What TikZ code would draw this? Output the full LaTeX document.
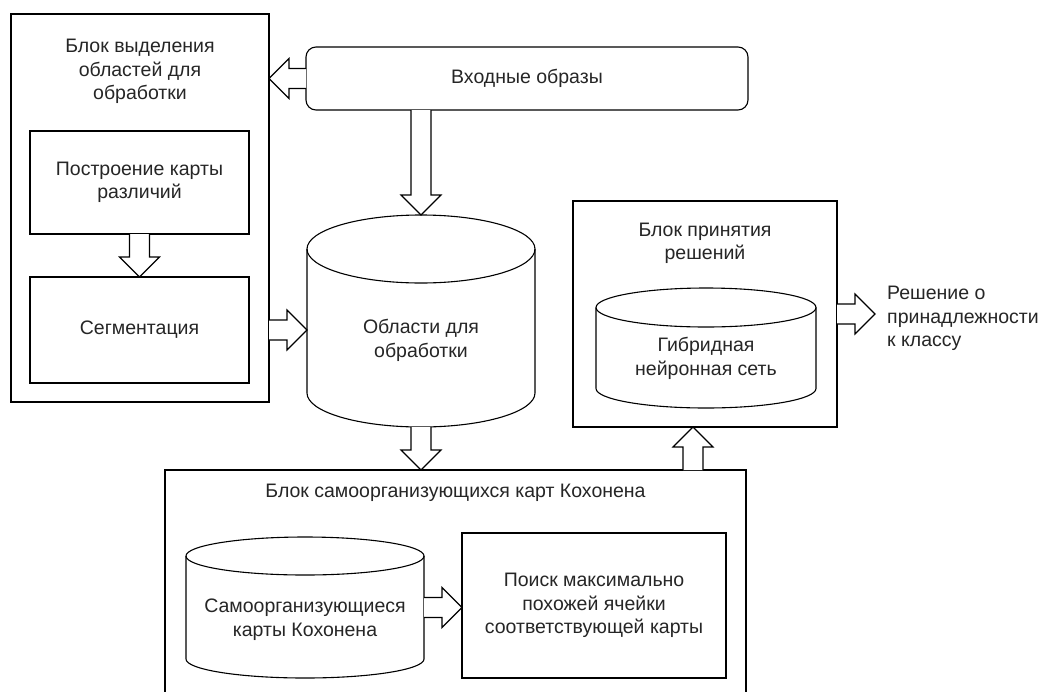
\documentclass[tikz,border=0pt]{standalone}
\usepackage{fontspec}
\setmainfont{Liberation Sans}
\usetikzlibrary{calc}
\tikzset{
  ln/.style={draw=black, line width=1.1pt},
  box/.style={ln, rectangle, inner sep=0pt, outer sep=0pt},
  ghost/.style={rectangle, inner sep=0pt, outer sep=0pt},
  txt/.style={align=center, inner sep=0pt, text=black!85, font=\fontsize{19.5}{23.5}\selectfont},
}
\newcommand\blockarrow[2]{%
  \coordinate (baA) at (#1);
  \coordinate (baB) at (#2);
  \coordinate (baN) at ($(baB)!20pt!(baA)$);
  \draw[ln, fill=white, line join=miter]
    ($(baA)!10pt!90:(baB)$) -- ($(baN)!10pt!-90:(baA)$) -- ($(baN)!20pt!-90:(baA)$)
    -- (baB) -- ($(baN)!20pt!90:(baA)$) -- ($(baN)!10pt!90:(baA)$) -- ($(baA)!10pt!-90:(baB)$);
}
\newcommand\cylout[3]{% name, rx, ry
  \draw[ln] ([yshift=-#3]#1.north west) -- ([yshift=#3]#1.south west)
    arc[start angle=180, end angle=360, x radius=#2, y radius=#3]
    -- ([yshift=-#3]#1.north east)
    arc[start angle=0, end angle=180, x radius=#2, y radius=#3] -- cycle;
  \draw[ln] ([yshift=-#3]#1.north west)
    arc[start angle=180, end angle=360, x radius=#2, y radius=#3];
}
\begin{document}
\begin{tikzpicture}[x=1pt, y=-1pt]
\useasboundingbox (0,0) rectangle (1043,691);
\clip (0,0) rectangle (1043,691);
\fill[white] (0,0) rectangle (1043,691);

% left block
\node[box, minimum width=258pt, minimum height=388pt] (lb) at (140,208) {};
\node[txt] (lbt) at (140,71.5) {Блок выделения\\областей для\\обработки};
\node[box, minimum width=219pt, minimum height=103pt] (b1) at (139.5,182.5) {};
\node[txt] at (b1.center) {Построение карты\\различий};
\node[box, minimum width=219pt, minimum height=106pt] (b2) at (139.5,330) {};
\node[txt] at (b2.center) {Сегментация};

% input
\node[box, rounded corners=10pt, minimum width=442pt, minimum height=63pt] (in) at (527,78.5) {};
\node[txt] at (in.center) {Входные образы};

% main cylinder
\node[ghost, minimum width=228pt, minimum height=212pt] (c1) at (421,321) {};
\cylout{c1}{114pt}{34pt}
\node[txt] at (421,340.5) {Области для\\обработки};

% decision block
\node[box, minimum width=264pt, minimum height=226pt] (dec) at (705,314) {};
\node[txt] (dect) at (705,243.5) {Блок принятия\\решений};
\node[ghost, minimum width=220pt, minimum height=120pt] (c2) at (706,348) {};
\cylout{c2}{110pt}{19.5pt}
\node[txt] at (706,358.5) {Гибридная\\нейронная сеть};

\node[txt, align=left, anchor=west] (out) at (887,318.5) {Решение о\\принадлежности\\к классу};

% Kohonen block
\node[box, minimum width=581pt, minimum height=240pt] (kb) at (455.5,590) {};
\node[txt] (kbt) at (455.5,493) {Блок самоорганизующихся карт Кохонена};
\node[ghost, minimum width=238pt, minimum height=141pt] (kc) at (305,607.5) {};
\cylout{kc}{119pt}{19pt}
\node[txt] at (305,619.5) {Самоорганизующиеся\\карты Кохонена};
\node[box, minimum width=264pt, minimum height=145pt] (pb) at (594,605.5) {};
\node[txt] at (pb.center) {Поиск максимально\\похожей ячейки\\соответствующей карты};

% arrows
\blockarrow{in.west}{in.west -| lb.east}
\blockarrow{in.south -| c1.north}{c1.north}
\blockarrow{b1.south}{b2.north}
\blockarrow{lb.east |- b2.east}{c1.west |- b2.east}
\blockarrow{c1.south}{kb.north -| c1.south}
\coordinate (t6) at ([xshift=-12pt]dec.south);
\blockarrow{kb.north -| t6}{t6}
\blockarrow{kc.east}{pb.west |- kc.east}
\coordinate (t8) at ([xshift=-12pt]out.west |- dec.east);
\blockarrow{dec.east}{t8}
\end{tikzpicture}
\end{document}
